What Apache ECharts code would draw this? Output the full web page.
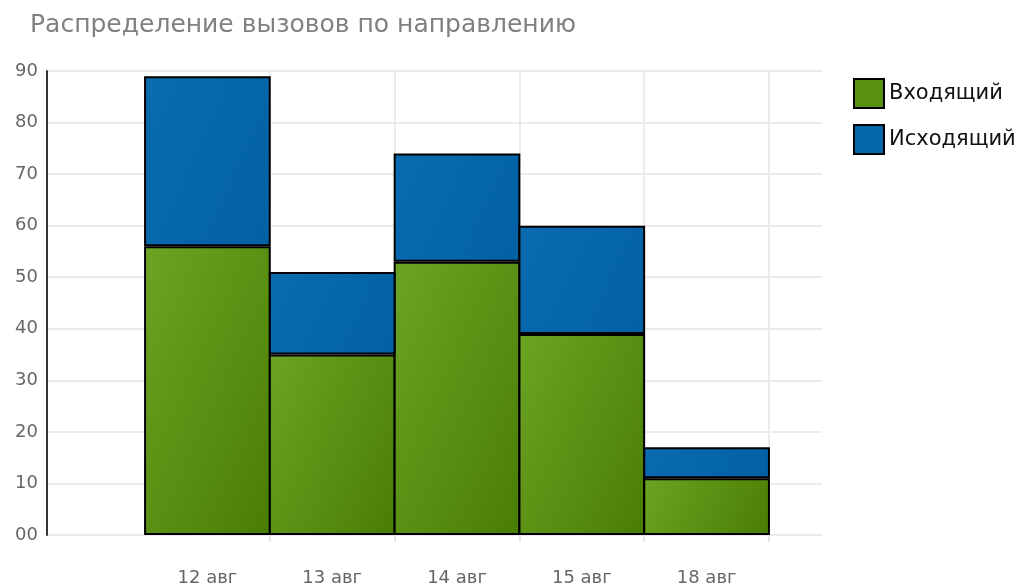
<!DOCTYPE html>
<html>
<head>
<meta charset="utf-8">
<script src="https://cdn.jsdelivr.net/npm/echarts@6/dist/echarts.min.js"></script>
<style>
  html, body { margin: 0; padding: 0; background: #ffffff; }
  #chart { width: 1019px; height: 585px; }
</style>
</head>
<body>
<div id="chart"></div>
<script>
// Calls per day, split by direction
const categories = ['12 авг', '13 авг', '14 авг', '15 авг', '18 авг'];
const incoming = [56, 35, 53, 39, 11];
const outgoing = [33, 16, 21, 21, 6];
const yTicks = [0, 10, 20, 30, 40, 50, 60, 70, 80, 90];

const FONT = 'DejaVu Sans';
const PLOT_TOP = 71, PLOT_BOTTOM = 50, CHART_H = 585;
const BAR_W = 125;
const pxPerUnit = (CHART_H - PLOT_TOP - PLOT_BOTTOM) / (yTicks[yTicks.length - 1] - yTicks[0]);
const SHADE_ANGLE = 25 * Math.PI / 180;

// Angled shading inside each bar: light at top-left, dark at bottom-right
function angledFill(light, dark) {
  return (params) => {
    const h = Math.max(params.value * pxPerUnit, 1);
    const w = BAR_W;
    const c = Math.cos(SHADE_ANGLE), s = Math.sin(SHADE_ANGLE);
    const t = w * c + h * s;
    return new echarts.graphic.LinearGradient(0, 0, (t * c) / w, (t * s) / h, [
      { offset: 0, color: light },
      { offset: 1, color: dark }
    ]);
  };
}

const chart = echarts.init(document.getElementById('chart'), null, { renderer: 'canvas' });

chart.setOption({
  animation: false,
  backgroundColor: '#ffffff',
  title: {
    text: 'Распределение вызовов по направлению',
    left: 30,
    top: 13,
    padding: 0,
    textStyle: { fontFamily: FONT, fontSize: 25, fontWeight: 'normal', color: '#808080' }
  },
  legend: {
    orient: 'vertical',
    left: 853,
    top: 78,
    padding: 0,
    itemWidth: 30,
    itemHeight: 29,
    itemGap: 15,
    icon: 'rect',
    textStyle: { fontFamily: FONT, fontSize: 21, color: '#111111' },
    data: [
      { name: 'Входящий', itemStyle: { color: '#5a9112' } },
      { name: 'Исходящий', itemStyle: { color: '#0566ab' } }
    ]
  },
  grid: [
    // background grid: y axis and horizontal lines across the whole plot
    { left: 47, right: 197, top: PLOT_TOP, bottom: PLOT_BOTTOM, outerBoundsMode: 'none' },
    // bar grid: five adjacent columns
    { left: 145, right: 250, top: PLOT_TOP, bottom: PLOT_BOTTOM, outerBoundsMode: 'none' }
  ],
  xAxis: [
    { gridIndex: 0, type: 'value', show: false, min: 0, max: 1 },
    {
      gridIndex: 1,
      type: 'category',
      data: categories,
      boundaryGap: true,
      axisLine: { show: false },
      axisTick: {
        show: true,
        length: 7,
        interval: (i) => i !== 0,
        lineStyle: { color: '#e6e6e6', width: 2 }
      },
      splitLine: {
        show: true,
        interval: (i) => i !== 0,
        lineStyle: { color: '#ebebeb', width: 2 }
      },
      axisLabel: {
        margin: 34,
        fontFamily: FONT,
        fontSize: 18,
        color: '#666666'
      }
    }
  ],
  yAxis: [
    {
      gridIndex: 0,
      type: 'value',
      min: yTicks[0],
      max: yTicks[yTicks.length - 1],
      interval: 10,
      axisLine: { show: true, lineStyle: { color: '#333333', width: 2 } },
      axisTick: { show: false },
      splitLine: { show: true, lineStyle: { color: '#ebebeb', width: 2 } },
      axisLabel: {
        margin: 9,
        fontFamily: FONT,
        fontSize: 18,
        color: '#666666',
        formatter: (v) => (v < 10 ? '0' + v : String(v))
      }
    },
    {
      gridIndex: 1,
      type: 'value',
      min: yTicks[0],
      max: yTicks[yTicks.length - 1],
      interval: 10,
      show: false,
      splitLine: { show: false }
    }
  ],
  series: [
    {
      name: 'Входящий',
      type: 'bar',
      xAxisIndex: 1,
      yAxisIndex: 1,
      stack: 'calls',
      barWidth: '101.5%',
      data: incoming,
      itemStyle: {
        color: angledFill('#6ca424', '#497d02'),
        borderColor: '#000000',
        borderWidth: 2
      }
    },
    {
      name: 'Исходящий',
      type: 'bar',
      xAxisIndex: 1,
      yAxisIndex: 1,
      stack: 'calls',
      barWidth: '101.5%',
      data: outgoing,
      itemStyle: {
        color: angledFill('#0a6bb0', '#0261a5'),
        borderColor: '#000000',
        borderWidth: 2
      }
    }
  ]
});
</script>
</body>
</html>
